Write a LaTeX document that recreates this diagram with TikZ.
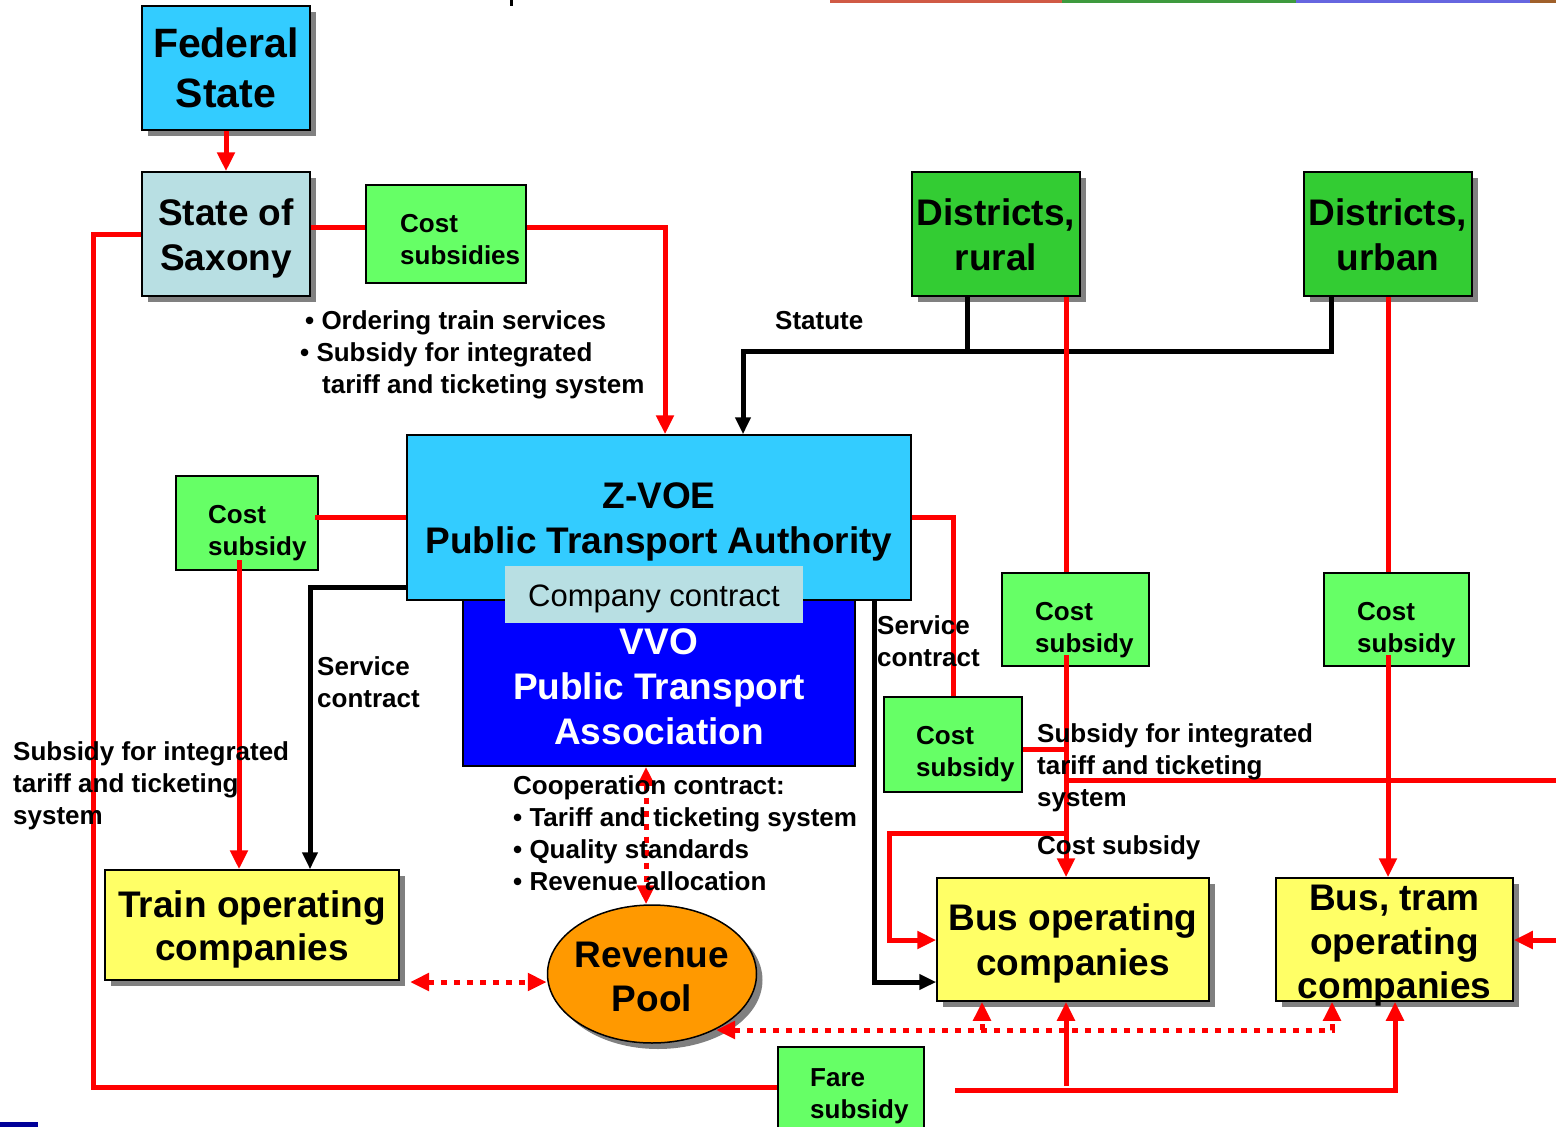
\documentclass[tikz,border=0pt]{standalone}
\usepackage{fontspec}
\setmainfont{Liberation Sans}
\usetikzlibrary{arrows.meta,shapes.geometric,shadows}
\definecolor{cyanbox}{HTML}{33CCFF}
\definecolor{lblue}{HTML}{B8DFE3}
\definecolor{lgreen}{HTML}{66FF66}
\definecolor{dgreen}{HTML}{33CC33}
\definecolor{ybox}{HTML}{FFFF66}
\definecolor{obox}{HTML}{FF9900}
\definecolor{bbox}{HTML}{0000FF}
\definecolor{rline}{HTML}{FF0000}
\definecolor{shgray}{HTML}{808080}
\definecolor{stripA}{HTML}{D05A45}
\definecolor{stripB}{HTML}{3E9A3E}
\definecolor{stripC}{HTML}{6666E0}
\definecolor{stripD}{HTML}{A0602A}
\definecolor{navybar}{HTML}{000099}
\newcommand{\mystrut}[1]{\rule{0pt}{#1}}
\begin{document}
\begin{tikzpicture}[x=1pt,y=-1pt,
  box/.style={draw=black,line width=1.5pt,inner sep=0pt,align=center,font=\bfseries\fontsize{37}{45}\selectfont},
  shad/.style={drop shadow={shadow xshift=6pt,shadow yshift=-6pt,fill=shgray,opacity=1,draw=none}},
  smallbox/.style={draw=black,line width=1.5pt,fill=lgreen,inner sep=0pt},
  lbl/.style={anchor=west,align=left,inner sep=0pt,font=\bfseries\fontsize{26}{32}\selectfont},
  low/.style={yshift=-3pt},
  rl/.style={draw=rline,line width=5pt},
  bl/.style={draw=black,line width=5pt},
  rd/.style={draw=rline,line width=5pt,dash pattern=on 6pt off 7pt},
  rtip/.style={-{Triangle[width=17pt,length=19pt]}},
  btip/.style={-{Triangle[width=15pt,length=17pt]}},
  dtip/.style={{Triangle[width=17pt,length=19pt]}-{Triangle[width=17pt,length=19pt]}}
]
\useasboundingbox (0,0) rectangle (1556,1127);
\fill[white] (0,0) rectangle (1556,1127);
% cropped residues at the edges
\fill[black] (510,0) rectangle (513,6);
\fill[stripA] (830,0) rectangle (1062,3);
\fill[stripB] (1062,0) rectangle (1296,3);
\fill[stripC] (1296,0) rectangle (1530,3);
\fill[stripD] (1530,0) rectangle (1556,3);
\fill[navybar] (0,1122) rectangle (38,1127);

% ---------- boxes ----------
\node[box,shad,fill=cyanbox,minimum width=168pt,minimum height=124pt,font=\bfseries\fontsize{41}{50}\selectfont] (fed) at (226,68) {Federal\\State};
\node[box,shad,fill=lblue,minimum width=168pt,minimum height=124pt] (sax) at (226,234) {\mystrut{35pt}State of\\Saxony};
\node[box,shad,fill=dgreen,minimum width=168pt,minimum height=124pt] (dr) at (996,234) {\mystrut{29pt}Districts,\\rural};
\node[box,shad,fill=dgreen,minimum width=168pt,minimum height=124pt] (du) at (1388,234) {\mystrut{29pt}Districts,\\urban};
\node[box,fill=bbox,text=white,minimum width=392pt,minimum height=166pt] (vvo) at (659,683) {\mystrut{33pt}VVO\\Public Transport\\Association};
\node[box,fill=cyanbox,minimum width=504pt,minimum height=165pt] (zvoe) at (659,517.5) {\mystrut{35pt}Z-VOE\\Public Transport Authority};
\node[fill=lblue,draw=none,inner sep=0pt,minimum width=298pt,minimum height=57pt,font=\fontsize{31}{37}\selectfont] (cc) at (654,594.5) {\mystrut{30pt}Company contract};
\node[box,shad,fill=ybox,minimum width=294pt,minimum height=110pt,font=\bfseries\fontsize{37}{43}\selectfont] (train) at (252,925) {\mystrut{35pt}Train operating\\companies};
\node[box,shad,fill=ybox,minimum width=272pt,minimum height=123pt] (bus) at (1073,939.5) {\mystrut{35pt}Bus operating\\companies};
\node[box,shad,fill=ybox,inner ysep=-10pt,minimum width=237pt,minimum height=123pt,font=\bfseries\fontsize{37}{44}\selectfont] (bustram) at (1394.5,939.5) {\mystrut{37pt}Bus, tram\\operating\\companies};
\node[box,shad,ellipse,fill=obox,inner xsep=-7pt,minimum width=209pt,minimum height=138pt,font=\bfseries\fontsize{37}{44}\selectfont] (pool) at (652,974) {\mystrut{31pt}Revenue\\Pool};

\node[smallbox,minimum width=160pt,minimum height=98pt] (csS) at (446,234) {};
\node[smallbox,minimum width=142pt,minimum height=94pt] (csL) at (247,523) {};
\node[smallbox,minimum width=147pt,minimum height=93pt] (csR1) at (1075.5,619.5) {};
\node[smallbox,minimum width=145pt,minimum height=93pt] (csR2) at (1396.5,619.5) {};
\node[smallbox,minimum width=138pt,minimum height=95pt] (csM) at (953,744.5) {};
\node[smallbox,minimum width=146pt,minimum height=100pt] (fare) at (851,1097) {};

% ---------- connectors ----------
\draw[rl,rtip] (fed.south) -- (sax.north);
\draw[rl] (sax.east |- 0,227) -- (csS.west |- 0,227);
\draw[rl,rtip] (csS.east |- 0,227) -- (665,227) -- (zvoe.north -| 665,0);
\draw[rl] (sax.west) -- (93,234) -- (93,1087) -- (fare.west |- 0,1087);
\coordinate (fareR) at (955,1090);
\draw[rl,rtip] (fareR) -- (1395,1090) -- (bustram.south -| 1395,0);
\coordinate (fareB) at (1066,1086);
\draw[rl,rtip] (fareB) -- (bus.south -| 1066,0);

\draw[bl] (dr.south -| 967,0) -- (967,351);
\draw[bl,btip] (du.south -| 1331,0) -- (1331,351) -- (743,351) -- (zvoe.north -| 743,0);

\draw[rl] (dr.south -| 1066,0) -- (csR1.north -| 1066,0);
\draw[rl,rtip] (1066,655) -- (bus.north -| 1066,0);
\draw[rl] (du.south -| 1388,0) -- (csR2.north -| 1388,0);
\draw[rl,rtip] (1388,655) -- (bustram.north -| 1388,0);

\draw[rl] (zvoe.west |- 0,517) -- (315,517);
\draw[rl,rtip] (239,560) -- (train.north -| 239,0);
\draw[bl,btip] (zvoe.west |- 0,587) -- (310,587) -- (train.north -| 310,0);

\draw[rl] (zvoe.east |- 0,517) -- (953,517) -- (csM.north -| 953,0);
\draw[rl] (csM.east |- 0,749) -- (1066,749);
\coordinate (rEdge1) at (1556,780);
\draw[rl] (1066,780) -- (rEdge1);
\draw[rl,rtip] (1066,833) -- (889,833) -- (889,940) -- (bus.west |- 0,940);
\coordinate (rEdge2) at (1556,940);
\draw[rl,rtip] (rEdge2) -- (bustram.east |- 0,940);
\draw[bl,btip] (zvoe.south -| 874,0) -- (874,982) -- (bus.west |- 0,982);

\draw[rd,dtip] (vvo.south -| 646,0) -- (pool.north -| 646,0);
\draw[rd,dtip] (410,982) -- (pool.west |- 0,982);
\coordinate (poolE) at (716,1030);
\draw[rd,dtip] (poolE) -- (1332,1030) -- (bustram.south -| 1332,0);
\draw[rd,rtip] (982,1030) -- (bus.south -| 982,0);

% ---------- texts in small boxes ----------
\node[lbl] (tcsS) at (400,240) {Cost\\subsidies};
\node[lbl,low] (tcsL) at (208,530) {Cost\\subsidy};
\node[lbl,low] (tcsR1) at (1035,627) {Cost\\subsidy};
\node[lbl,low] (tcsR2) at (1357,627) {Cost\\subsidy};
\node[lbl,low] (tcsM) at (916,751) {Cost\\subsidy};
\node[lbl,low] (tfare) at (810,1093) {Fare\\subsidy};

% ---------- labels ----------
\node[lbl,low] (order) at (300,352) {\hspace{5pt}• Ordering train services\\• Subsidy for integrated\\\hspace{22pt}tariff and ticketing system};
\node[lbl] (statute) at (775,321) {Statute};
\node[lbl,low] (subL) at (13,783) {Subsidy for integrated\\tariff and ticketing\\system};
\node[lbl] (servL) at (317,682) {Service\\contract};
\node[lbl] (servR) at (877,641) {Service\\contract};
\node[lbl] (coop) at (513,833) {Cooperation contract:\\• Tariff and ticketing system\\• Quality standards\\• Revenue allocation};
\node[lbl,low] (subR) at (1037,765) {Subsidy for integrated\\tariff and ticketing\\system};
\node[lbl,low] (costR) at (1037,845) {Cost subsidy};
\end{tikzpicture}
\end{document}
